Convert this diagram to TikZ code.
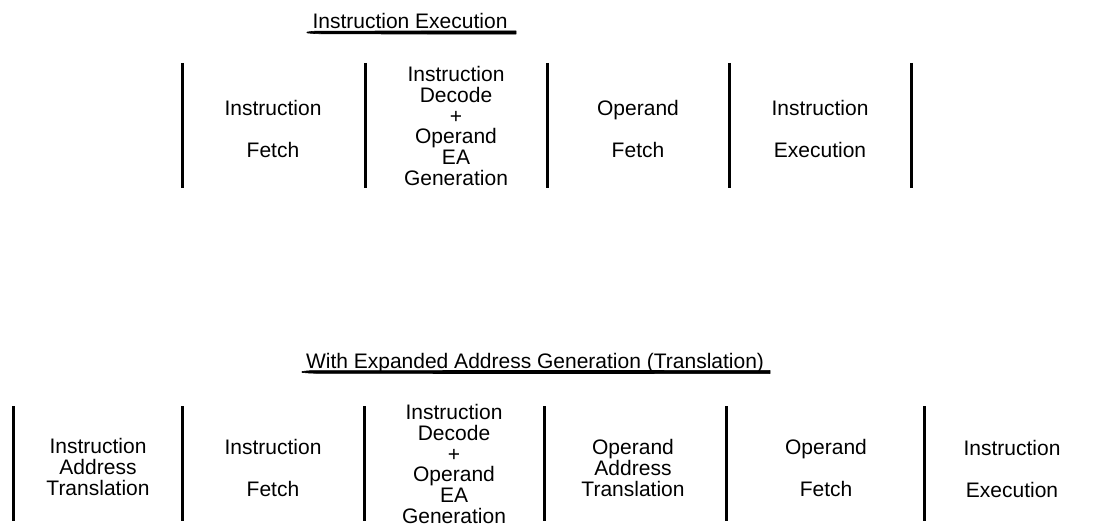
\documentclass[tikz,border=0pt]{standalone}
\usepackage{fontspec}
\setmainfont{Liberation Sans}
\usetikzlibrary{calc}
\begin{document}
\begin{tikzpicture}[x=1pt,y=-1pt,
  lbl/.style={align=center,inner sep=0pt,font=\fontsize{21}{20.8}\selectfont},
  ttl/.style={inner sep=0pt,font=\fontsize{21}{20.8}\selectfont,anchor=base},
  sep/.style={line width=3pt},
  uline/.style={fill=black,draw=black,line width=0.6pt,line join=round}]
\useasboundingbox (0,0) rectangle (1099,529);
% ---------- top ----------
\node[ttl] (t1) at (410,29) {Instruction Execution};
\coordinate (u1a) at (307,32.5);
\coordinate (u1b) at (516,32.5);
\fill[uline] ($(u1a)+(0,-0.4)$) .. controls ($(u1a)+(8,-1.5)$) .. ($(u1a)+(25,-1.4)$)
  -- ($(u1b)+(0,-1.6)$) -- ($(u1b)+(0,1.6)$) -- ($(u1a)+(25,1.4)$)
  .. controls ($(u1a)+(8,1.2)$) .. ($(u1a)+(0,0.4)$) -- cycle;
\foreach \x [count=\i] in {182,365,547,729,911}{
  \draw[sep] (\x,63) -- (\x,188);
}
\node[lbl] (a1) at (273,129) {Instruction\\\mbox{}\\Fetch};
\node[lbl] (a2) at (456,126) {Instruction\\Decode\\+\\Operand\\EA\\Generation};
\node[lbl] (a3) at (638,129) {Operand\\\mbox{}\\Fetch};
\node[lbl] (a4) at (820,129) {Instruction\\\mbox{}\\Execution};
% ---------- bottom ----------
\node[ttl] (t2) at (535,368) {With Expanded Address Generation (Translation)};
\coordinate (u2a) at (302,372);
\coordinate (u2b) at (770,372);
\fill[uline] ($(u2a)+(0,-0.4)$) .. controls ($(u2a)+(8,-1.5)$) .. ($(u2a)+(25,-1.4)$)
  -- ($(u2b)+(0,-1.6)$) -- ($(u2b)+(0,1.6)$) -- ($(u2a)+(25,1.4)$)
  .. controls ($(u2a)+(8,1.2)$) .. ($(u2a)+(0,0.4)$) -- cycle;
\foreach \x in {13,182,364,544,726,924}{
  \draw[sep] (\x,406) -- (\x,521);
}
\node[lbl] (b1) at (98,467) {Instruction\\Address\\Translation};
\node[lbl] (b2) at (273,468) {Instruction\\\mbox{}\\Fetch};
\node[lbl] (b3) at (454,464) {Instruction\\Decode\\+\\Operand\\EA\\Generation};
\node[lbl] (b4) at (633,468) {Operand\\Address\\Translation};
\node[lbl] (b5) at (826,468) {Operand\\\mbox{}\\Fetch};
\node[lbl] (b6) at (1012,469) {Instruction\\\mbox{}\\Execution};
\end{tikzpicture}
\end{document}
